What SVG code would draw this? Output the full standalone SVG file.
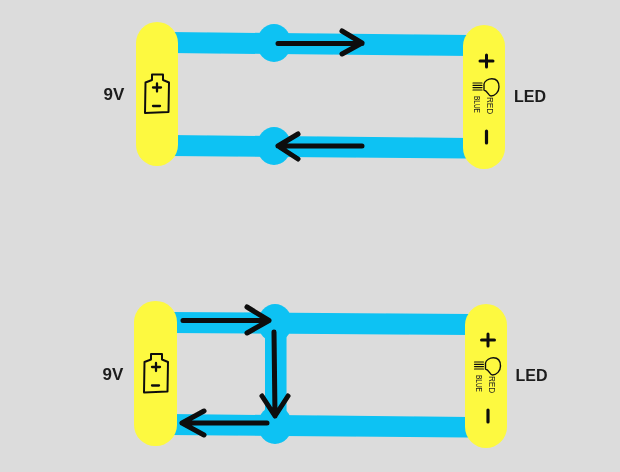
<svg xmlns="http://www.w3.org/2000/svg" width="620" height="472" viewBox="0 0 620 472">
<defs>
<filter id="soft" x="0" y="0" width="100%" height="100%"><feGaussianBlur stdDeviation="0.5"/></filter>
<style>
.pill{fill:#fdf93f}
.wire{fill:#0cc2f3}
.ic{fill:none;stroke:#111;stroke-width:2;stroke-linecap:round;stroke-linejoin:round}
.sym{fill:none;stroke:#111;stroke-width:2.300;stroke-linecap:round}
.arr{fill:none;stroke:#0a0a0a;stroke-width:5;stroke-linecap:round;stroke-linejoin:round}
.lab{font-family:"Liberation Sans",sans-serif;font-weight:700;fill:#1b1b1b}
.tiny{font-family:"Liberation Sans",sans-serif;font-size:12.500px;fill:#222}
</style>
<g id="battery">
<path class="ic" d="M145.500 82.500L152 80V74.500H163V80L169 82.500L168.500 112L145 113Z"/>
<path class="sym" d="M153 87.500H161M157 83.500V91.500M153 106H160"/>
</g>
<g id="led">
<path class="sym" style="stroke-width:3" d="M480 61H493M486.500 55V67"/>
<path class="sym" style="stroke-width:3.200" d="M486.500 131V143"/>
<path class="ic" style="stroke-width:1.400" d="M484 84C485 78 499 75 499 87C499 92 495 96 491 96C488 96 488 91 484 90Z"/>
<path class="ic" style="stroke-width:1.200" d="M473 83H482M473 85.300H482M473 87.600H482M473 90H482"/>
<text class="tiny" transform="translate(487 97) rotate(90) scale(0.650 0.750)">RED</text>
<text class="tiny" transform="translate(474 96) rotate(90) scale(0.520 0.750)">BLUE</text>
</g>
</defs>
<rect width="620" height="472" fill="#dcdcdc"/>
<g filter="url(#soft)">
<g id="connectors">
<g id="wires-top">
<path class="wire" d="M170 32L470 35V56L170 53Z"/>
<path class="wire" d="M170 135L470 138V158.500L170 156Z"/>
<ellipse class="wire" cx="274" cy="43" rx="17" ry="19"/>
<ellipse class="wire" cx="274" cy="146" rx="17" ry="19"/>
</g>
<g id="wires-bottom">
<path class="wire" d="M170 312L470 314V335L170 333Z"/>
<path class="wire" d="M170 414L470 417V437.500L170 435Z"/>
<rect class="wire" x="265" y="323" width="21.500" height="102"/>
<ellipse class="wire" cx="275" cy="323" rx="17" ry="19"/>
<ellipse class="wire" cx="275" cy="425" rx="17" ry="19"/>
</g>
<g id="arrows">
<path class="arr" d="M278 43.500H362M342 31L362 43L342 54"/>
<path class="arr" d="M362 146H278M298 134L278 146L298 159"/>
<path class="arr" d="M183 320.500H269M247 307L269 320.500L247 333"/>
<path class="arr" d="M274 332L275 416M262 396L275 416L288 396"/>
<path class="arr" d="M267 423H182M204 411L182 423L204 435"/>
</g>
</g>
<g id="battery-1"><rect class="pill" x="136" y="22" width="42" height="144" rx="21"/><use href="#battery"/></g>
<g id="led-1"><rect class="pill" x="463" y="25" width="42" height="144" rx="21"/><use href="#led"/></g>
<g id="battery-2"><rect class="pill" x="134" y="301" width="43" height="145" rx="21"/><use href="#battery" transform="translate(-1 279.500)"/></g>
<g id="led-2"><rect class="pill" x="465" y="304" width="42" height="144" rx="21"/><use href="#led" transform="translate(1.500 279)"/></g>
<g id="labels">
<text class="lab" font-size="17" x="103.500" y="100">9V</text>
<text class="lab" font-size="16" x="514" y="102">LED</text>
<text class="lab" font-size="17" x="102.500" y="379.500">9V</text>
<text class="lab" font-size="16" x="515.500" y="381">LED</text>
</g>
</g>
</svg>
